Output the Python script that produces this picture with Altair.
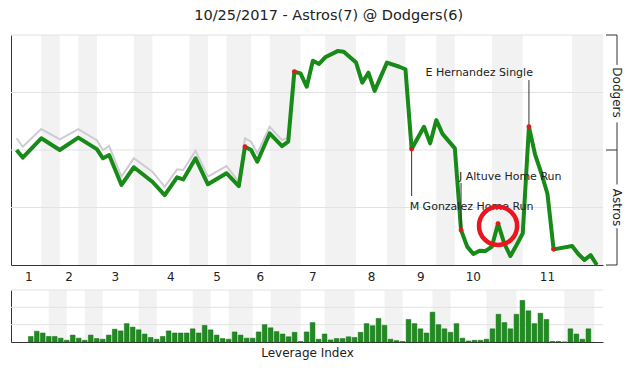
import altair as alt
import pandas as pd

TITLE = "10/25/2017 - Astros(7) @ Dodgers(6)"
FONT = "DejaVu Sans"

# half-innings, in play-index units
innings = [str(i) for i in range(1, 12)]
top_start = [0, 7, 13, 22, 31, 38, 46, 55, 63, 71, 82]
bot_start = [4, 10, 19, 28, 34, 41, 50, 60, 68, 77, 90]
bot_end = [7, 13, 22, 31, 38, 46, 55, 63, 71, 82, 95]

# Dodgers win probability (green line), visible vertices
wp_play = [0, 1, 4, 7, 10, 13, 14, 15, 17, 19, 22, 24, 26, 27, 29, 31, 34, 36, 37, 38,
           39, 41, 43, 44, 45, 46, 47, 48, 49, 50, 52, 53, 55, 56, 57, 58, 60, 62, 63, 64,
           66, 67, 68, 69, 71, 72, 73, 74, 75, 76, 77, 78, 79, 80, 81, 82, 83, 84, 85, 86,
           87, 90, 91, 92, 93, 94]
wp_value = [50.0, 46.7, 55.1, 50.0, 55.4, 50.4, 46.4, 47.8, 34.8, 42.5, 36.2, 30.4, 38.1, 37.2,
            46.4, 35.1, 39.9, 34.3, 51.4, 50.0, 44.9, 57.2, 51.7, 53.6, 84.0, 83.3, 77.5, 88.8,
            87.4, 90.3, 93.0, 92.7, 88.0, 79.3, 83.6, 75.7, 88.0, 86.2, 85.1, 50.4, 60.1, 52.9,
            63.0, 57.0, 50.7, 15.2, 8.0, 4.8, 6.2, 6.1, 8.0, 18.0, 9.4, 3.9, 8.7, 13.8, 60.1,
            48.0, 40.0, 31.0, 6.8, 8.3, 4.8, 2.2, 4.3, 0.0]

# second (light gray) probability line, early innings
gray_play = [0, 1, 4, 7, 10, 13, 14, 15, 17, 19, 22, 24, 26, 27, 29, 31, 34, 36, 37, 38,
             39, 41, 43, 44, 45]
gray_value = [55.1, 51.4, 59.1, 54.6, 59.1, 54.3, 50.0, 51.7, 38.4, 46.4, 40.6, 34.0, 41.6,
              41.3, 49.7, 38.4, 43.0, 36.2, 55.1, 53.6, 48.6, 60.1, 54.3, 55.4, 84.0]

# key plays (red dots)
key_play = [37, 45, 64, 72, 78, 83, 87]
key_value = [51.4, 84.0, 50.4, 15.2, 18.0, 60.1, 6.8]

# annotations
ann_text = ["E Hernandez Single", "J Altuve Home Run", "M Gonzalez Home Run"]
ann_play = [83, 72, 64]
ann_point = [60.1, 15.2, 50.4]
ann_line_end = [80.4, 35.7, 30.0]
ann_text_y = [83.6, 38.4, 25.3]
ann_align = ["right", "left", "left"]

circle_play = [78]
circle_value = [17.0]

# leverage index per play (1..94)
leverage = [0.32, 0.62, 0.52, 0.32, 0.32, 0.22, 0.10, 0.40, 0.22, 0.10,
            0.40, 0.20, 0.16, 0.40, 0.74, 0.64, 1.06, 0.86, 0.70, 0.46,
            0.26, 0.16, 0.32, 0.64, 0.52, 0.52, 0.52, 0.76, 0.52, 0.96,
            0.70, 0.40, 0.20, 0.16, 0.58, 0.40, 0.22, 0.22, 0.58, 1.00,
            0.82, 0.60, 0.46, 0.30, 0.56, 0.03, 0.58, 1.12, 0.16, 0.46,
            0.12, 0.20, 0.20, 0.30, 0.26, 0.56, 1.06, 0.94, 1.36, 0.96,
            0.16, 0.08, 0.03, 1.30, 1.06, 0.76, 0.52, 1.72, 1.00, 0.76,
            0.56, 1.06, 0.22, 0.06, 0.10, 0.10, 0.16, 0.76, 1.60, 1.12,
            0.76, 1.60, 2.40, 1.80, 1.06, 1.66, 1.30, 0.03, 0.03, 0.00,
            0.76, 0.46, 0.16, 0.76]

side_label = ["Dodgers", "Astros"]
side_label_pos = [75, 25]
side_seg_top = [100, 62, 16]
side_seg_bot = [87, 35, 0]
side_ticks = [0, 50, 100]
grid_main = [25, 50, 75, 100]
grid_lev = [1, 2, 3]

# ---------------------------------------------------------------
W = 592
H_MAIN = 230
H_LEV = 52
GREEN = "#178a17"
BAND = "#f2f2f2"
GRID = "#e2e2e2"
AXIS = "#333333"

bands = pd.DataFrame({"start": bot_start, "end": bot_end})
inn = pd.DataFrame({"inning": innings, "a": top_start, "b": bot_start})
wp = pd.DataFrame({"play": wp_play, "wp": wp_value})
gray = pd.DataFrame({"play": gray_play, "wp": gray_value})
keys = pd.DataFrame({"play": key_play, "wp": key_value})
ann = pd.DataFrame({"text": ann_text, "play": ann_play, "p": ann_point,
                    "e": ann_line_end, "ty": ann_text_y, "align": ann_align})
circ = pd.DataFrame({"play": circle_play, "wp": circle_value})
lev = pd.DataFrame({"play": list(range(1, len(leverage) + 1)), "li": leverage})
side = pd.DataFrame({"label": side_label, "pos": side_label_pos})
segs = pd.DataFrame({"top": side_seg_top, "bot": side_seg_bot})
ticks = pd.DataFrame({"t": side_ticks})
gm = pd.DataFrame({"g": grid_main})
gl = pd.DataFrame({"g": grid_lev})

xs = alt.Scale(domain=[-0.9, 95.0], nice=False, zero=False)
ys = alt.Scale(domain=[0, 100], nice=False)
xaxis = alt.Axis(title=None, labels=False, ticks=False, grid=False, domainColor=AXIS)
yaxis = alt.Axis(title=None, labels=False, ticks=False, grid=False, domainColor=AXIS)


def X(f):
    return alt.X(f"{f}:Q", scale=xs, axis=xaxis)


def Y(f):
    return alt.Y(f"{f}:Q", scale=ys, axis=yaxis)


band_layer = alt.Chart(bands).mark_rect(color=BAND).encode(x=X("start"), x2="end")
grid_layer = alt.Chart(gm).mark_rule(color=GRID, strokeWidth=1).encode(y=Y("g"))
gray_layer = alt.Chart(gray).mark_line(color="#cfcbd3", strokeWidth=2).encode(x=X("play"), y=Y("wp"))
green_layer = alt.Chart(wp).mark_line(color=GREEN, strokeWidth=4, strokeJoin="round").encode(
    x=X("play"), y=Y("wp"))
ann_rules = alt.Chart(ann).mark_rule(color="#333333", strokeWidth=1).encode(
    x=X("play"), y=Y("p"), y2="e")
ann_right = alt.Chart(ann).transform_filter("datum.align == 'right'").mark_text(
    align="right", baseline="middle", dx=4, fontSize=11, font=FONT, color="#222222").encode(
    x=X("play"), y=Y("ty"), text="text:N")
ann_left = alt.Chart(ann).transform_filter("datum.align == 'left'").mark_text(
    align="left", baseline="middle", dx=-2, fontSize=11, font=FONT, color="#222222").encode(
    x=X("play"), y=Y("ty"), text="text:N")
dots = alt.Chart(keys).mark_circle(size=24, color="#d81e1e", opacity=1).encode(x=X("play"), y=Y("wp"))
ring = alt.Chart(circ).mark_point(shape="circle", filled=False, size=1450, strokeWidth=4.5,
                                  color="#e8171f", opacity=1).encode(x=X("play"), y=Y("wp"))
seg_layer = alt.Chart(segs).mark_rule(color=AXIS, strokeWidth=1).encode(
    x=alt.value(W + 14), y=Y("top"), y2="bot")
tick_layer = alt.Chart(ticks).mark_rule(color=AXIS, strokeWidth=1).encode(
    x=alt.value(W + 3), x2=alt.value(W + 14), y=Y("t"))
side_text = alt.Chart(side).mark_text(angle=90, align="center", baseline="middle", fontSize=12,
                                      font=FONT, color="#222222").encode(
    x=alt.value(W + 14), y=Y("pos"), text="label:N")
inn_text = alt.Chart(inn).transform_calculate(mid="(datum.a + datum.b) / 2").mark_text(
    baseline="middle", fontSize=12, font=FONT, color="#222222").encode(
    x=X("mid"), y=alt.value(H_MAIN + 12), text="inning:N")

main = alt.layer(band_layer, grid_layer, gray_layer, green_layer, ann_rules, ann_right, ann_left,
                 dots, ring, seg_layer, tick_layer, side_text, inn_text).properties(
    width=W, height=H_MAIN)

lxs = alt.Scale(domain=[-1.46, 95.6], nice=False, zero=False)
lys = alt.Scale(domain=[0, 3], nice=False)
lxaxis = alt.Axis(title="Leverage Index", labels=False, ticks=False, grid=False, domainColor=AXIS,
                  titleFont=FONT, titleFontSize=12, titleFontWeight="normal", titleColor="#222222",
                  titlePadding=5)
lyaxis = alt.Axis(title=None, labels=False, ticks=False, grid=False, domainColor=AXIS)

lband = alt.Chart(bands).mark_rect(color=BAND).encode(
    x=alt.X("start:Q", scale=lxs, axis=lxaxis), x2="end")
lgrid = alt.Chart(gl).mark_rule(color=GRID, strokeWidth=1).encode(
    y=alt.Y("g:Q", scale=lys, axis=lyaxis))
lbars = alt.Chart(lev).mark_bar(size=4.7, color="#1e8c1e", stroke="#146c14", strokeWidth=0.5).encode(
    x=alt.X("play:Q", scale=lxs, axis=lxaxis), y=alt.Y("li:Q", scale=lys, axis=lyaxis))

levchart = alt.layer(lband, lgrid, lbars).properties(width=W, height=H_LEV)

chart = alt.vconcat(main, levchart, spacing=25, bounds="flush").properties(
    title=alt.TitleParams(TITLE, font=FONT, fontSize=14.5, fontWeight="normal", color="#222222",
                          anchor="middle", offset=11, dx=12),
    padding={"left": 10, "top": 8, "right": 6, "bottom": 6},
    background="white",
).configure_view(stroke=None)

chart.save("out.html", embed_options={"renderer": "svg", "actions": False})
